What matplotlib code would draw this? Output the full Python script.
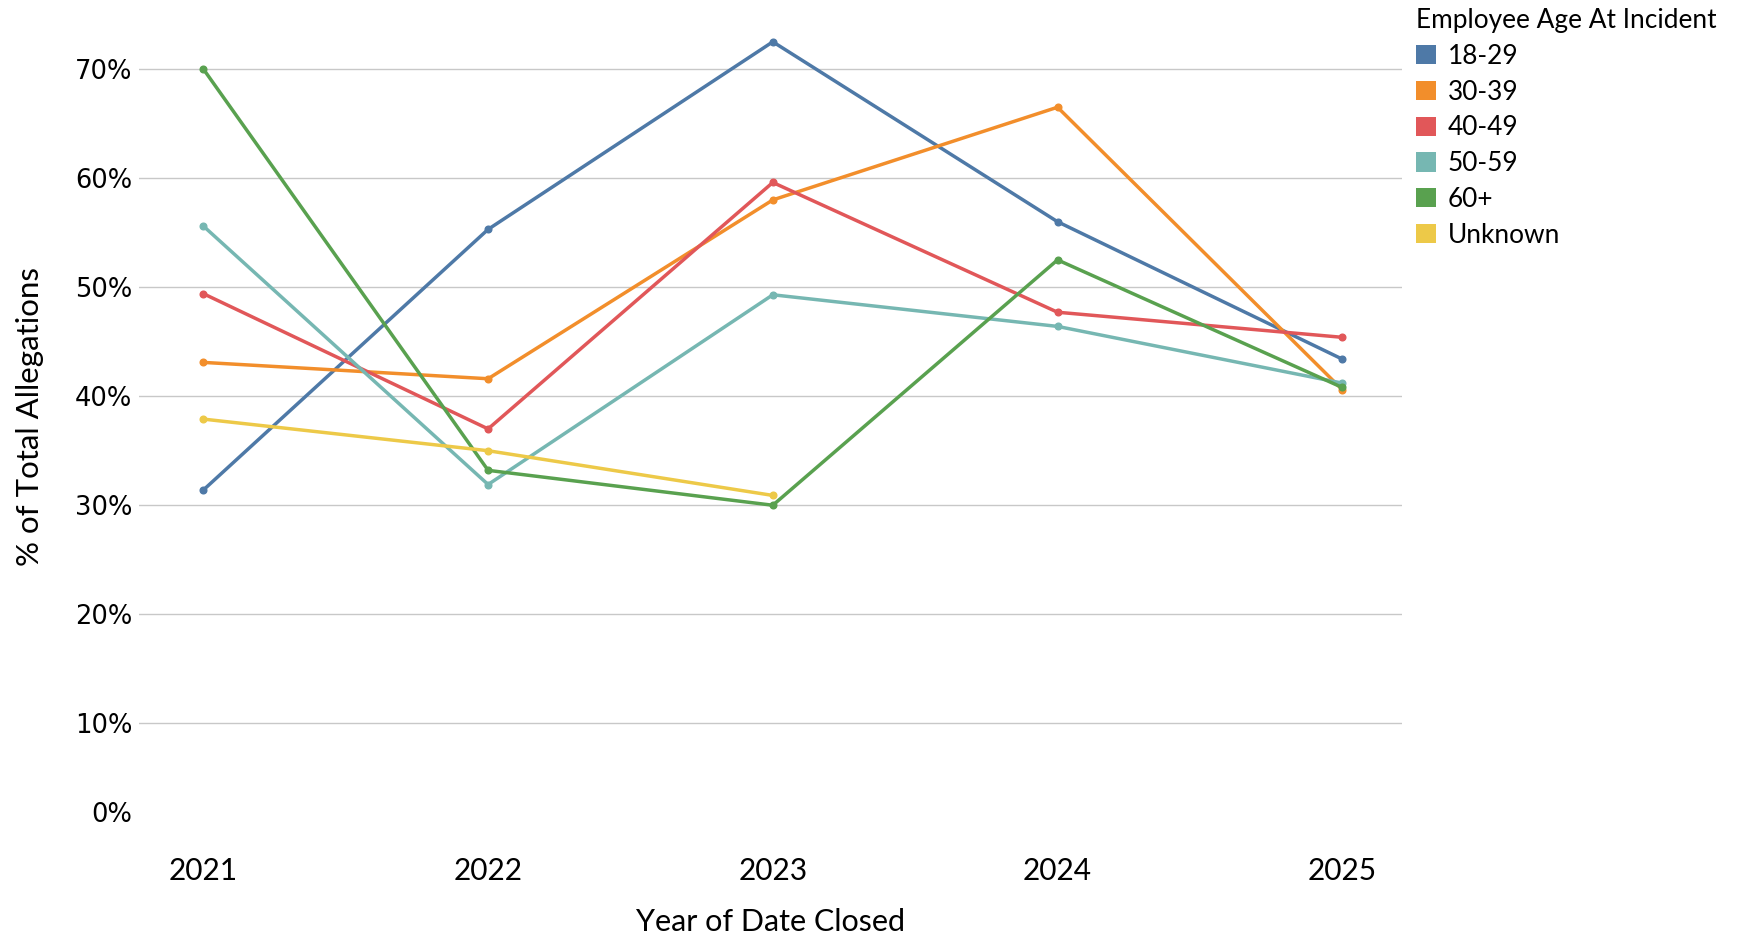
import numpy as np
import matplotlib
matplotlib.use('Agg')
from matplotlib import pyplot as plt
from matplotlib.patches import Patch
import matplotlib.transforms as mtrans

years = [2021, 2022, 2023, 2024, 2025]
age_groups = ['18-29', '30-39', '40-49', '50-59', '60+', 'Unknown']
colors = ['#4e79a7', '#f28e2b', '#e15759', '#76b7b2', '#59a14f', '#edc948']

# % of total allegations per age group
s_18_29 = [31.4, 55.3, 72.5, 56.0, 43.4]
s_30_39 = [43.1, 41.6, 58.0, 66.5, 40.6]
s_40_49 = [49.4, 37.0, 59.6, 47.7, 45.4]
s_50_59 = [55.6, 31.9, 49.3, 46.4, 41.2]
s_60_plus = [70.0, 33.2, 30.0, 52.5, 40.8]
s_unknown = [37.9, 35.0, 30.9, np.nan, np.nan]
series = [s_18_29, s_30_39, s_40_49, s_50_59, s_60_plus, s_unknown]

yticks = [0, 10, 20, 30, 40, 50, 60, 70]

fig = plt.figure(figsize=(17.38, 9.34), dpi=100)
ax = fig.add_axes([0.0800, 0.1088, 0.7267, 0.8698])

for vals, c in zip(series, colors):
    ax.plot(years, vals, color=c, lw=2.5, marker='o', ms=4.8, solid_joinstyle='round')

ax.set_xlim(2020.774, 2025.21)
ax.set_ylim(0, 74.5)
ax.set_xticks(years)
ax.set_xticklabels([str(y) for y in years], fontsize=21.5, family='Lato')
ax.set_yticks(yticks)
ax.set_yticklabels(['%d%%' % v for v in yticks], fontsize=18.5, family='DejaVu Sans')
ax.tick_params(axis='both', length=0)
ax.tick_params(axis='x', pad=18)
ax.tick_params(axis='y', pad=5)
ax.grid(axis='y', color='#c8c8c8', lw=1)
ax.get_ygridlines()[0].set_visible(False)
ax.set_axisbelow(True)
for sp in ax.spines.values():
    sp.set_visible(False)

# Tableau pulls the bottom label inside the pane
lab0 = ax.get_yticklabels()[0]
lab0.set_transform(lab0.get_transform() + mtrans.ScaledTranslation(0, 20 / 100, fig.dpi_scale_trans))

ax.set_xlabel('Year of Date Closed', fontsize=22, family='Lato', labelpad=16)
ax.set_ylabel('% of Total Allegations', fontsize=22.5, family='Lato')
ax.yaxis.set_label_coords(-0.0755, 0.512)

handles = [Patch(facecolor=c, edgecolor='none') for c in colors]
leg = fig.legend(handles, age_groups, loc='upper left', bbox_to_anchor=(1416 / 1738, 1 - 8 / 934),
                 frameon=False, title='Employee Age At Incident', fontsize=18.9,
                 title_fontproperties={'family': 'Lato', 'size': 18.9},
                 prop={'family': 'Lato', 'size': 18.9}, handlelength=0.75, handleheight=0.75,
                 handletextpad=0.45, labelspacing=0.41, borderpad=0, borderaxespad=0,
                 alignment='left')

fig.savefig('out.png', dpi=100)
